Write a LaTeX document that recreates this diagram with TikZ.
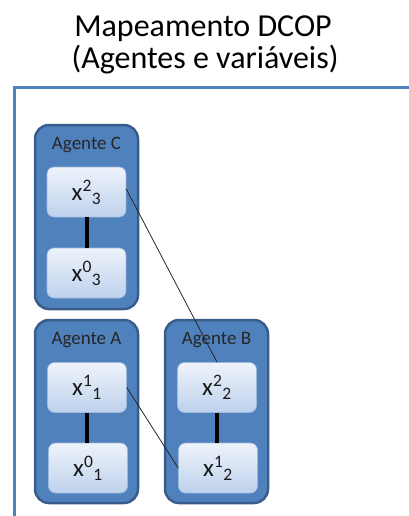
\documentclass[tikz,border=0pt]{standalone}
\usepackage{fontspec}
\setmainfont{Carlito}
\definecolor{frameblue}{HTML}{4F81BD}
\definecolor{agentfill}{HTML}{4F81BD}
\definecolor{agentedge}{HTML}{385D8A}
\definecolor{vartop}{HTML}{EEF3FB}
\definecolor{varbot}{HTML}{BED1EC}
\definecolor{varedge}{HTML}{9FB9DD}
\begin{document}
\begin{tikzpicture}[x=1pt,y=-1pt,
  agentbox/.style={draw=agentedge,line width=2.5pt,fill=agentfill,rounded corners=14pt},
  agentlabel/.style={anchor=base,inner sep=0pt,text=black!85,font=\fontsize{19}{22}\selectfont},
  varbox/.style={draw=varedge,line width=0.6pt,rounded corners=7pt,top color=vartop,bottom color=varbot,
    minimum width=79pt,minimum height=50pt,inner sep=0pt,font=\fontsize{25}{28}\selectfont,text=black!90},
  samelink/.style={line width=4pt,black},
  crosslink/.style={line width=0.8pt,black!85},
  titletext/.style={anchor=base,inner sep=0pt,font=\fontsize{32}{36}\selectfont}]
\useasboundingbox (0,0) rectangle (408,516);

% page title
\node[titletext] (title1) at (203,37) {Mapeamento DCOP};
\node[titletext] (title2) at (205,69) {(Agentes e variáveis)};

% outer frame (top and left edges only)
\coordinate (frameTR) at (410,87.5);
\coordinate (frameTL) at (14.5,87.5);
\coordinate (frameBL) at (14.5,518);
\draw[frameblue,line width=3.5pt] (frameTR) -- (frameTL) -- (frameBL);

% agent containers
\path[agentbox] (35,125) rectangle (138,309);
\path[agentbox] (35,320) rectangle (138,503);
\path[agentbox] (165,320) rectangle (268,503);
\node[agentlabel] (labC) at (86.5,149) {Agente C};
\node[agentlabel] (labA) at (86.5,344) {Agente A};
\node[agentlabel] (labB) at (216.5,344) {Agente B};

% variables
\node[varbox] (x23) at (86.5,192) {x\textsuperscript{2}\textsubscript{3}};
\node[varbox] (x03) at (86.5,273) {x\textsuperscript{0}\textsubscript{3}};
\node[varbox] (x11) at (87,387.5) {x\textsuperscript{1}\textsubscript{1}};
\node[varbox] (x01) at (88,468) {x\textsuperscript{0}\textsubscript{1}};
\node[varbox] (x22) at (217,387.5) {x\textsuperscript{2}\textsubscript{2}};
\node[varbox] (x12) at (218,468) {x\textsuperscript{1}\textsubscript{2}};

% constraints inside each agent
\draw[samelink] (x23) -- (x03);
\draw[samelink] (x11.south) -- (x11.south |- x01.north);
\draw[samelink] (x22.south) -- (x22.south |- x12.north);

% constraints between agents
\draw[crosslink] ([yshift=3pt]x23.east) -- (x22.north);
\draw[crosslink] (x11.east) -- (x12.west);
\end{tikzpicture}
\end{document}
